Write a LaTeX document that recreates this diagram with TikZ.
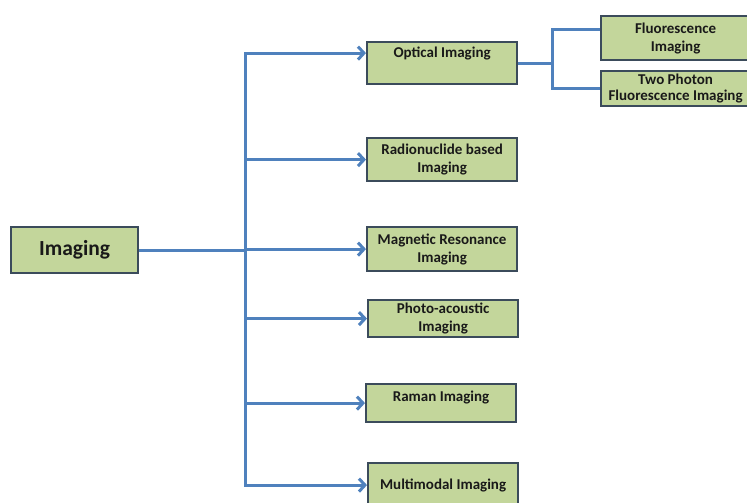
\documentclass[tikz,border=0pt]{standalone}
\usepackage{fontspec}
\setmainfont{Carlito}
\usetikzlibrary{positioning,arrows.meta}

\definecolor{boxfill}{HTML}{C3D69B}
\definecolor{boxline}{HTML}{3B4B5B}
\definecolor{linkblue}{HTML}{4F81BD}

\begin{document}
\begin{tikzpicture}[x=1pt,y=-1pt,
    box/.style={draw=boxline,line width=2.2pt,fill=boxfill,align=center,anchor=north west,
                inner sep=1pt,minimum width=150pt,text=black!90,
                font=\bfseries\fontsize{15}{18}\selectfont},
    link/.style={draw=linkblue,line width=3pt},
    flow/.style={link,-{Straight Barb[length=6pt,width=13pt]}}]
            \useasboundingbox (0,0) rectangle (747,503);
            \node[box,minimum width=127pt,minimum height=46pt,
                  font=\bfseries\fontsize{21.5}{24}\selectfont] (img) at (10,226) {Imaging};
            \node[box,minimum height=42pt,text depth=21pt] (opt)   at (366,41)  {Optical Imaging};
            \node[box,minimum height=43pt]                 (rad)   at (366,137) {Radionuclide based\\Imaging};
            \node[box,minimum height=44pt]                 (mri)   at (366,226) {Magnetic Resonance\\Imaging};
            \node[box,minimum height=37pt]                 (pa)    at (367,299) {Photo-acoustic\\Imaging};
            \node[box,minimum height=38pt,text depth=13pt] (raman) at (365,383) {Raman Imaging};
            \node[box,minimum height=44pt]                 (multi) at (367,462) {Multimodal Imaging};
            \node[box,minimum width=149pt,minimum height=44pt] (fl) at (600,15) {Fluorescence\\Imaging};
            \node[box,minimum width=149pt,minimum height=35pt,
                  font=\bfseries\fontsize{15}{16}\selectfont] (tp) at (600,70) {Two Photon\\Fluorescence Imaging};
            % trunk and fork x positions
            \coordinate (tr) at (245,0);
            \coordinate (fk) at (552,0);
            \draw[link] (img.east) -- (img.east -| tr);
            \draw[flow] ([yshift=10pt]opt.west -| tr) |- (multi.west);
            \draw[flow] (multi.west -| tr) |- ([yshift=10pt]opt.west);
            \foreach \n in {rad,mri,pa,raman}
                \draw[flow] (\n.west -| tr) -- (\n.west);
            % optical imaging splits in two
            \draw[link] (opt.east) -- (opt.east -| fk);
            \draw[link] ([yshift=9pt]fl.west) -| (fk |- tp.west) -- (tp.west);
        \end{tikzpicture}
\end{document}
